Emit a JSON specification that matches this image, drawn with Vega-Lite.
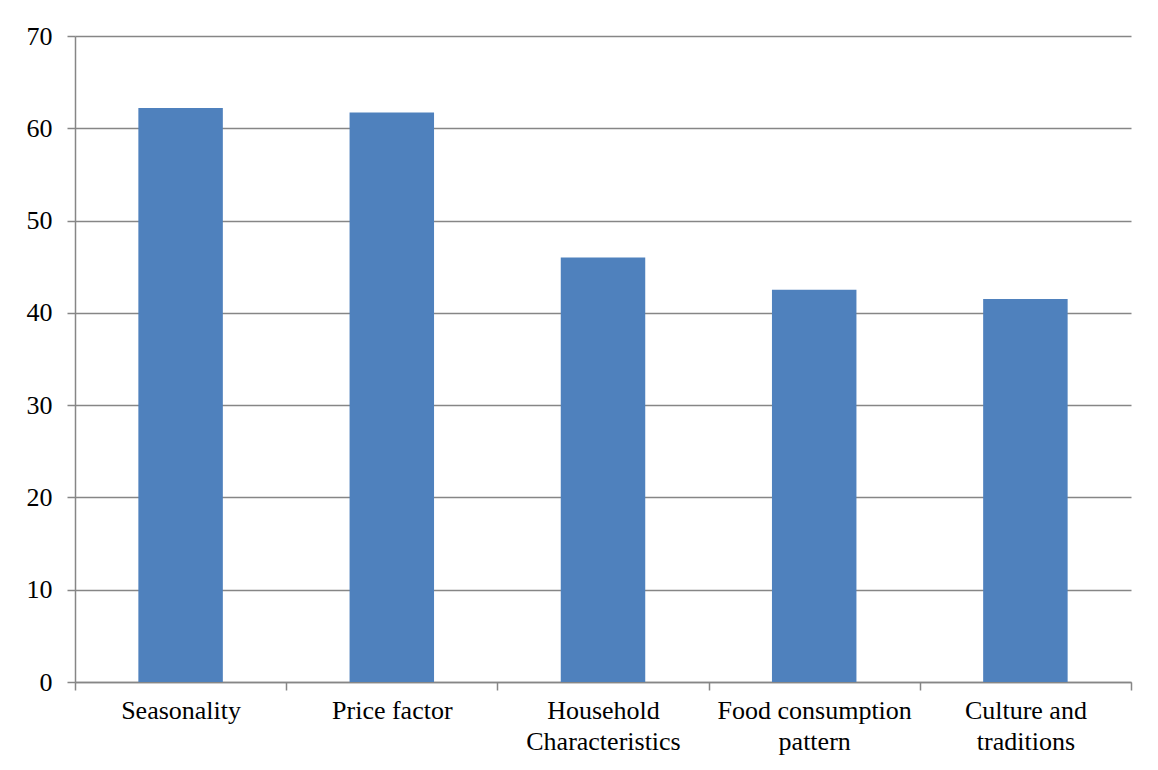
{
  "$schema": "https://vega.github.io/schema/vega-lite/v6.json",
  "width": 1056,
  "height": 646,
  "autosize": {"type": "none"},
  "padding": {"left": 75, "top": 36, "right": 27, "bottom": 88},
  "background": "#ffffff",
  "data": {
    "values": [
      {"factor": "Seasonality", "value": 62.2},
      {"factor": "Price factor", "value": 61.7},
      {"factor": "Household Characteristics", "value": 46.0},
      {"factor": "Food consumption pattern", "value": 42.5},
      {"factor": "Culture and traditions", "value": 41.5}
    ]
  },
  "mark": {"type": "bar", "color": "#4F81BD", "width": {"band": 0.4}},
  "encoding": {
    "x": {
      "field": "factor",
      "type": "nominal",
      "sort": null,
      "scale": {"paddingInner": 0, "paddingOuter": 0},
      "axis": {
        "title": null,
        "labelAngle": 0,
        "labelLimit": 0,
        "tickBand": "extent",
        "tickSize": 8,
        "tickColor": "#868686",
        "tickWidth": 1.5,
        "domainColor": "#868686",
        "domainWidth": 1.5,
        "labelFont": "Times New Roman, Liberation Serif, serif",
        "labelFontSize": 26,
        "labelColor": "#000000",
        "labelPadding": 7,
        "labelLineHeight": 31,
        "labelBaseline": "top",
        "labelExpr": "datum.label == 'Household Characteristics' ? ['Household', 'Characteristics'] : datum.label == 'Food consumption pattern' ? ['Food consumption', 'pattern'] : datum.label == 'Culture and traditions' ? ['Culture and', 'traditions'] : datum.label",
        "grid": false
      }
    },
    "y": {
      "field": "value",
      "type": "quantitative",
      "scale": {"domain": [0, 70], "nice": false},
      "axis": {
        "title": null,
        "values": [0, 10, 20, 30, 40, 50, 60, 70],
        "tickSize": 8,
        "tickColor": "#868686",
        "tickWidth": 1.5,
        "domainColor": "#868686",
        "domainWidth": 1.5,
        "gridColor": "#868686",
        "gridWidth": 1.5,
        "labelFont": "Times New Roman, Liberation Serif, serif",
        "labelFontSize": 26,
        "labelColor": "#000000",
        "labelPadding": 15
      }
    }
  },
  "config": {"view": {"stroke": null}}
}
